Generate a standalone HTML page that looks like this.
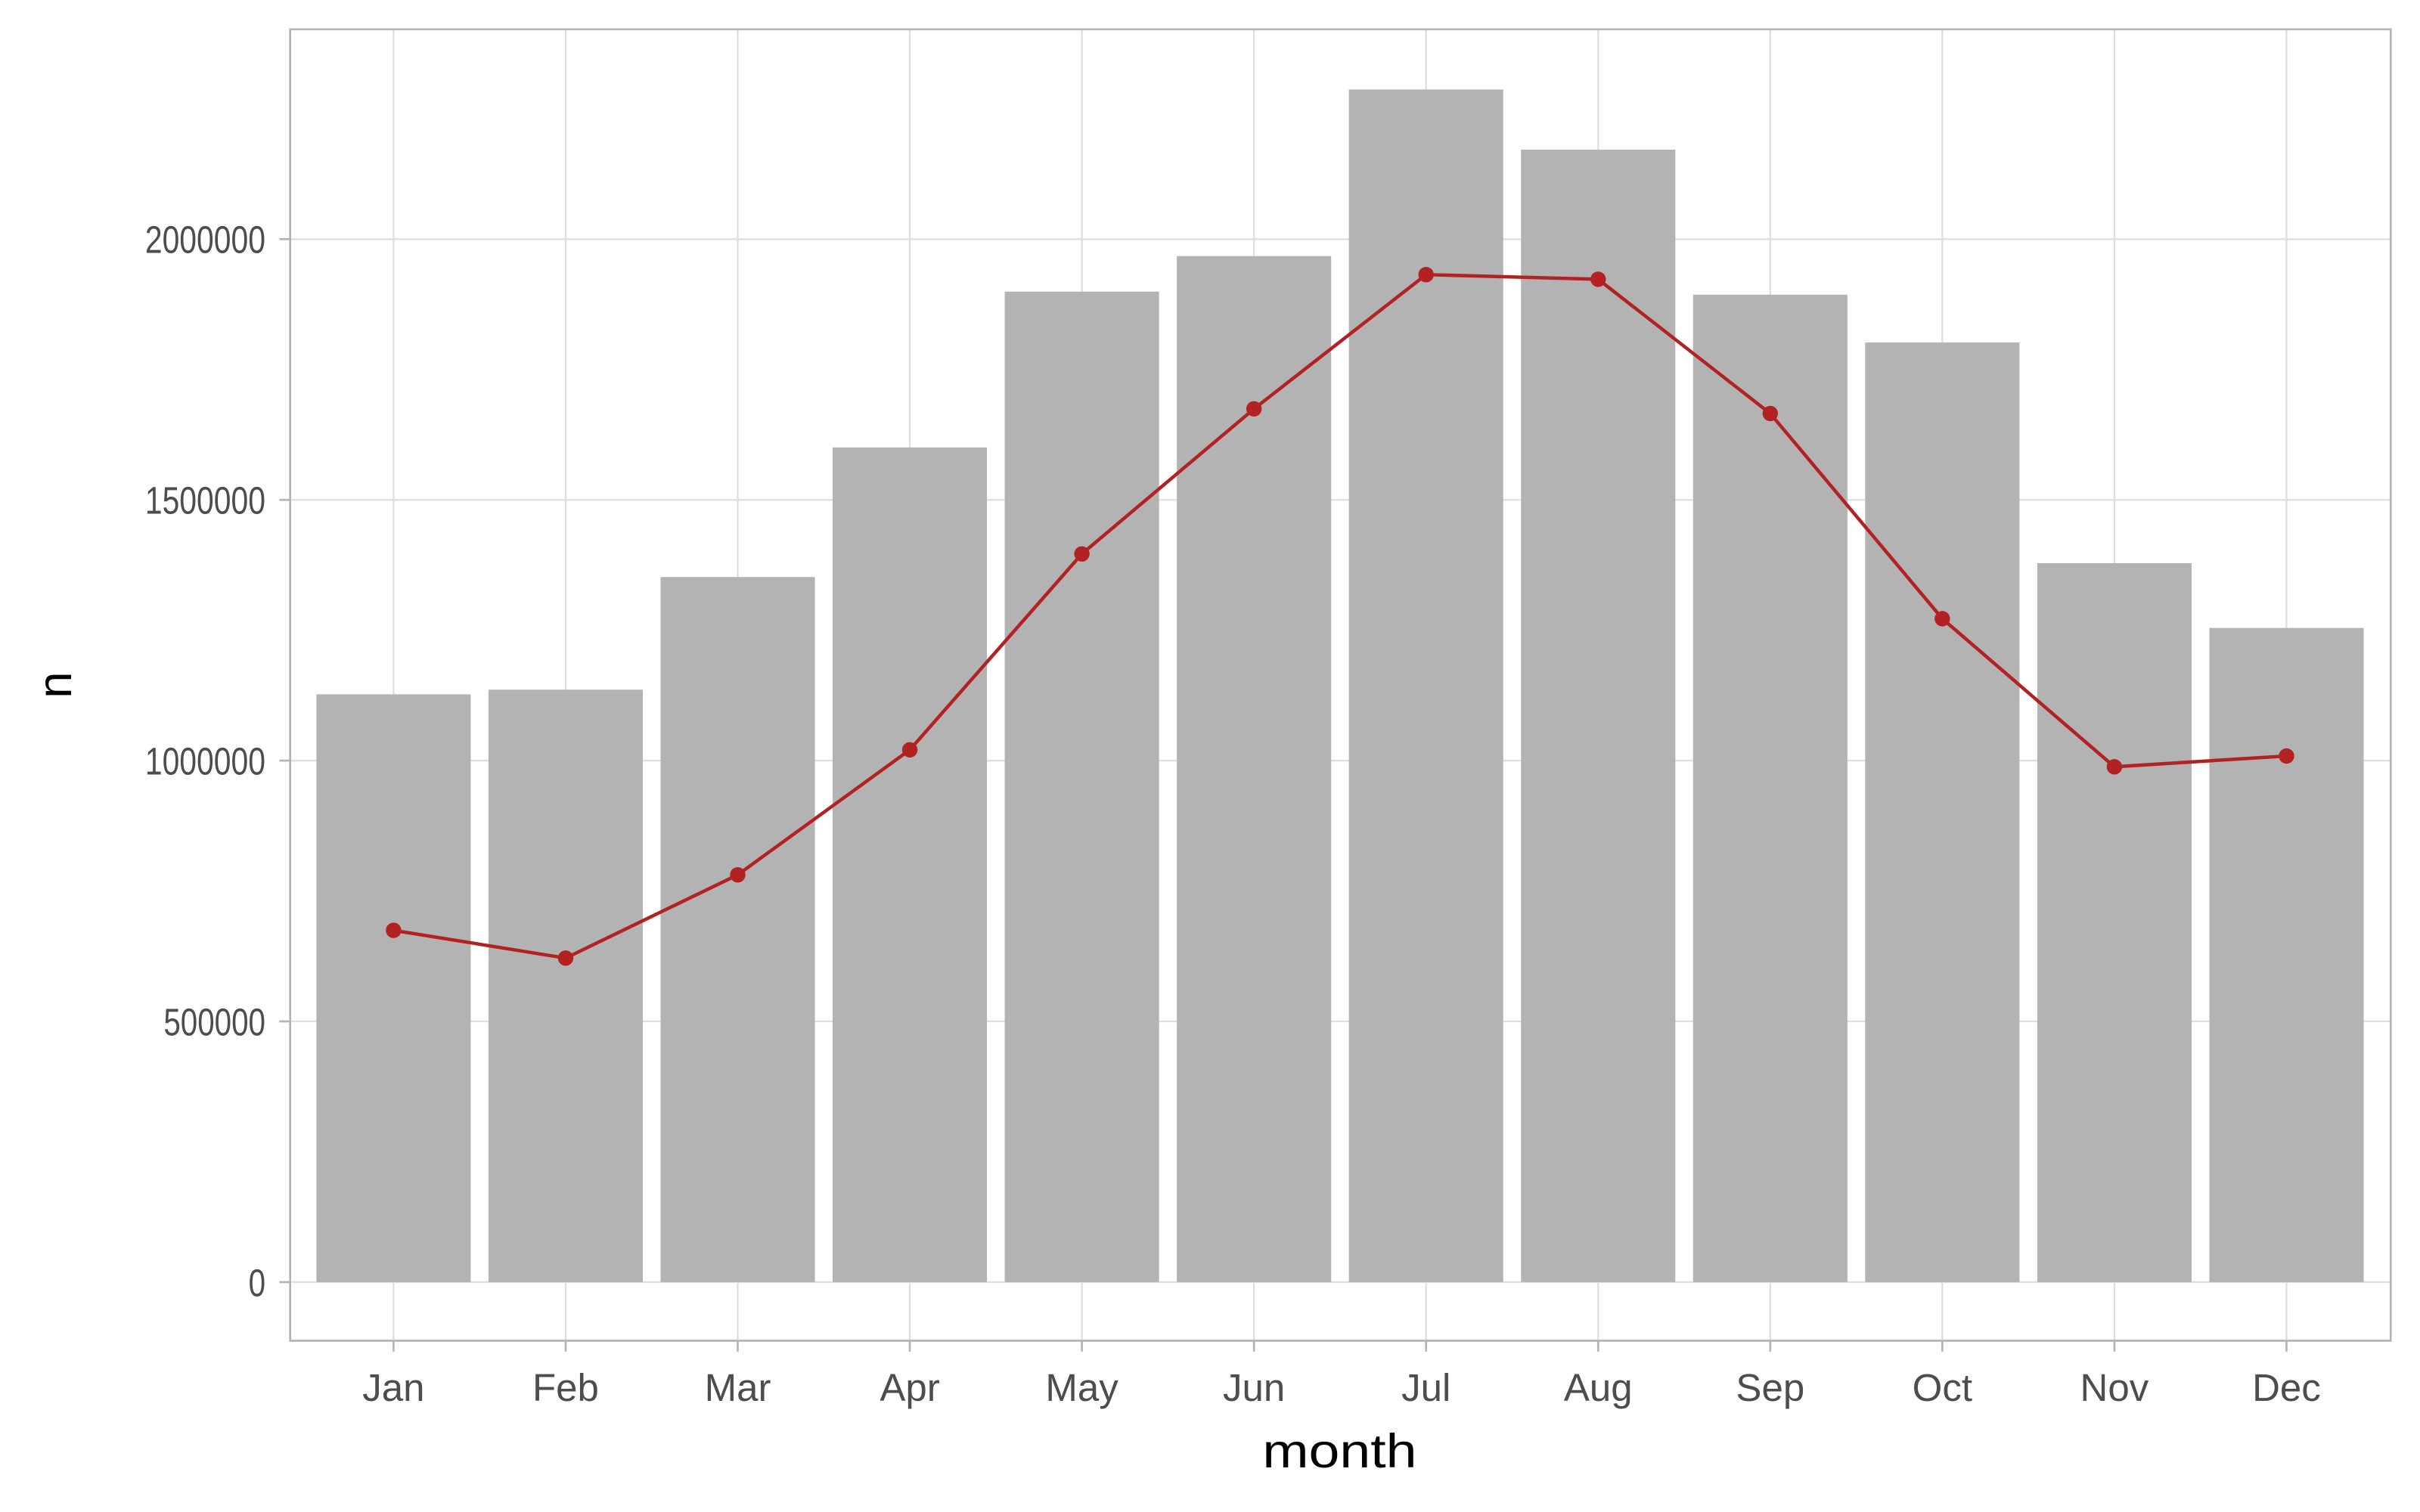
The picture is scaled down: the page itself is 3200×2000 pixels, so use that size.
<!DOCTYPE html>
<html><head><meta charset="utf-8"><style>
html,body{margin:0;padding:0;background:#fff}
svg{display:block}
text{font-family:"Liberation Sans",sans-serif}
</style></head><body>
<svg width="3200" height="2000" viewBox="0 0 1568 980" xmlns="http://www.w3.org/2000/svg">
<rect width="1568" height="980" fill="#fff"/>
<g stroke="#dedede" stroke-width="1.1">
<line x1="188" x2="1549" y1="831" y2="831"/>
<line x1="188" x2="1549" y1="662" y2="662"/>
<line x1="188" x2="1549" y1="493" y2="493"/>
<line x1="188" x2="1549" y1="324" y2="324"/>
<line x1="188" x2="1549" y1="155" y2="155"/>
<line x1="255" x2="255" y1="19" y2="869"/>
<line x1="366.5" x2="366.5" y1="19" y2="869"/>
<line x1="478" x2="478" y1="19" y2="869"/>
<line x1="589.5" x2="589.5" y1="19" y2="869"/>
<line x1="701" x2="701" y1="19" y2="869"/>
<line x1="812.5" x2="812.5" y1="19" y2="869"/>
<line x1="924" x2="924" y1="19" y2="869"/>
<line x1="1035.5" x2="1035.5" y1="19" y2="869"/>
<line x1="1147" x2="1147" y1="19" y2="869"/>
<line x1="1258.5" x2="1258.5" y1="19" y2="869"/>
<line x1="1370" x2="1370" y1="19" y2="869"/>
<line x1="1481.5" x2="1481.5" y1="19" y2="869"/>
</g>
<g fill="#b3b3b3">
<rect x="205" y="450" width="100" height="381"/>
<rect x="316.5" y="447" width="100" height="384"/>
<rect x="428" y="374" width="100" height="457"/>
<rect x="539.5" y="290" width="100" height="541"/>
<rect x="651" y="189" width="100" height="642"/>
<rect x="762.5" y="166" width="100" height="665"/>
<rect x="874" y="58" width="100" height="773"/>
<rect x="985.5" y="97" width="100" height="734"/>
<rect x="1097" y="191" width="100" height="640"/>
<rect x="1208.5" y="222" width="100" height="609"/>
<rect x="1320" y="365" width="100" height="466"/>
<rect x="1431.5" y="407" width="100" height="424"/>
</g>
<polyline fill="none" stroke="#b22222" stroke-width="2.2" points="255,603 366.5,621 478,567 589.5,486 701,359 812.5,265 924,178 1035.5,181 1147,268 1258.5,401 1370,497 1481.5,490"/>
<g fill="#b22222">
<circle cx="255" cy="603" r="5"/><circle cx="366.5" cy="621" r="5"/><circle cx="478" cy="567" r="5"/>
<circle cx="589.5" cy="486" r="5"/><circle cx="701" cy="359" r="5"/><circle cx="812.5" cy="265" r="5"/>
<circle cx="924" cy="178" r="5"/><circle cx="1035.5" cy="181" r="5"/><circle cx="1147" cy="268" r="5"/>
<circle cx="1258.5" cy="401" r="5"/><circle cx="1370" cy="497" r="5"/><circle cx="1481.5" cy="490" r="5"/>
</g>
<rect x="188" y="19" width="1361" height="850" fill="none" stroke="#b3b3b3" stroke-width="1.3"/>
<g stroke="#b3b3b3" stroke-width="1.3">
<line x1="181" x2="188" y1="831" y2="831"/><line x1="181" x2="188" y1="662" y2="662"/>
<line x1="181" x2="188" y1="493" y2="493"/><line x1="181" x2="188" y1="324" y2="324"/>
<line x1="181" x2="188" y1="155" y2="155"/>
<line x1="255" x2="255" y1="869" y2="876"/><line x1="366.5" x2="366.5" y1="869" y2="876"/>
<line x1="478" x2="478" y1="869" y2="876"/><line x1="589.5" x2="589.5" y1="869" y2="876"/>
<line x1="701" x2="701" y1="869" y2="876"/><line x1="812.5" x2="812.5" y1="869" y2="876"/>
<line x1="924" x2="924" y1="869" y2="876"/><line x1="1035.5" x2="1035.5" y1="869" y2="876"/>
<line x1="1147" x2="1147" y1="869" y2="876"/><line x1="1258.5" x2="1258.5" y1="869" y2="876"/>
<line x1="1370" x2="1370" y1="869" y2="876"/><line x1="1481.5" x2="1481.5" y1="869" y2="876"/>
</g>
<g fill="#4d4d4d" font-size="25" text-anchor="end">
<text x="172" y="840" textLength="11" lengthAdjust="spacingAndGlyphs">0</text>
<text x="172" y="671" textLength="66" lengthAdjust="spacingAndGlyphs">500000</text>
<text x="172" y="502" textLength="78" lengthAdjust="spacingAndGlyphs">1000000</text>
<text x="172" y="333" textLength="78" lengthAdjust="spacingAndGlyphs">1500000</text>
<text x="172" y="164" textLength="78" lengthAdjust="spacingAndGlyphs">2000000</text>
</g>
<g fill="#4d4d4d" font-size="25" text-anchor="middle">
<text x="255" y="908">Jan</text><text x="366.5" y="908">Feb</text><text x="478" y="908">Mar</text>
<text x="589.5" y="908">Apr</text><text x="701" y="908">May</text><text x="812.5" y="908">Jun</text>
<text x="924" y="908">Jul</text><text x="1035.5" y="908">Aug</text><text x="1147" y="908">Sep</text>
<text x="1258.5" y="908">Oct</text><text x="1370" y="908">Nov</text><text x="1481.5" y="908">Dec</text>
</g>
<text x="868" y="951" font-size="31" text-anchor="middle" fill="#000" textLength="100" lengthAdjust="spacingAndGlyphs">month</text>
<text x="0" y="0" font-size="31" text-anchor="middle" fill="#000" transform="translate(46,444) rotate(-90)">n</text>
</svg>
</body></html>
